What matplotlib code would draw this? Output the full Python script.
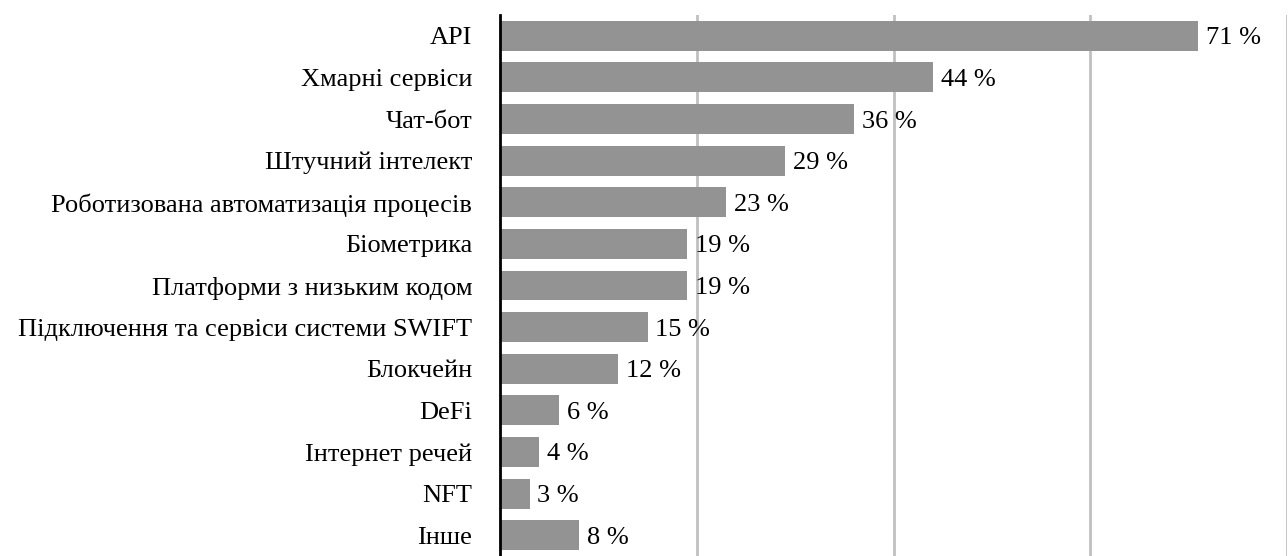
import matplotlib.pyplot as plt

categories = ['API', 'Хмарні сервіси', 'Чат-бот', 'Штучний інтелект',
              'Роботизована автоматизація процесів', 'Біометрика',
              'Платформи з низьким кодом', 'Підключення та сервіси системи SWIFT',
              'Блокчейн', 'DeFi', 'Інтернет речей', 'NFT', 'Інше']
values = [71, 44, 36, 29, 23, 19, 19, 15, 12, 6, 4, 3, 8]
grid_ticks = [20, 40, 60, 80]

plt.rcParams['font.family'] = ['Liberation Serif', 'DejaVu Serif']

fig = plt.figure(figsize=(12.88, 5.56), dpi=100)
ax = fig.add_axes([500 / 1288, 0.0, 787 / 1288, 541 / 556])

ypos = list(range(len(categories)))
ax.barh(ypos, values, height=0.72, color='#939393', zorder=2)

for y, v in zip(ypos, values):
    ax.text(v + 0.8, y, f'{v} %', va='center_baseline', ha='left', fontsize=19, zorder=3)

ax.set_xlim(0, 80)
ax.set_ylim(len(categories) - 0.5, -0.5)
ax.set_yticks(ypos)
ax.set_yticklabels(categories, fontsize=19)
ax.set_xticks(grid_ticks)
ax.tick_params(axis='y', length=0, pad=20)
ax.tick_params(axis='x', length=0, labelbottom=False)
ax.grid(axis='x', color='#c0c0c0', linewidth=2, zorder=0)
for s in ['top', 'right', 'bottom']:
    ax.spines[s].set_visible(False)
ax.spines['left'].set_linewidth(2)
ax.spines['left'].set_color('black')
ax.spines['left'].set_zorder(4)

fig.savefig('out.png', dpi=100)
